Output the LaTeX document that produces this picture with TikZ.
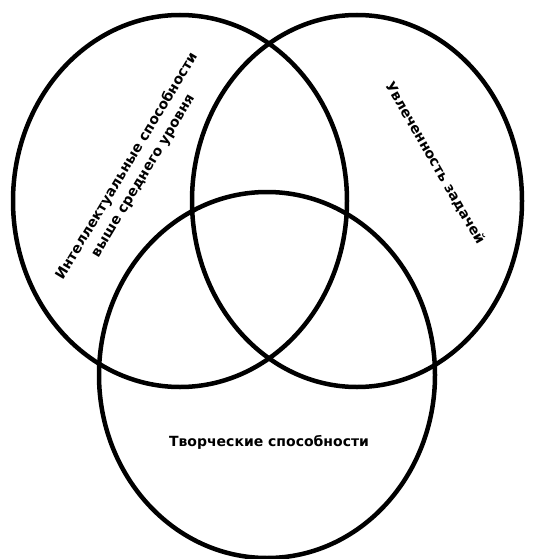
\documentclass[tikz,border=0pt]{standalone}
\usepackage{fontspec}
\setmainfont{DejaVu Sans}
\begin{document}
\begin{tikzpicture}[x=1pt,y=-1pt,line width=4.5pt,color=black,
    lbl/.style={font=\fontsize{14}{19}\selectfont\bfseries,align=center,inner sep=0pt}]
    \useasboundingbox (0,0) rectangle (544,559);
    % three sets
    \draw (180,201) ellipse [x radius=167, y radius=186];
    \draw (357,201) ellipse [x radius=165, y radius=186];
    \draw (267,375) ellipse [x radius=168, y radius=183];
    % labels
    \node[lbl,rotate=59] (intel) at (135,171) {Интеллектуальные способности\\выше среднего уровня};
    \node[lbl,rotate=-60] (task) at (435,163) {Увлеченность задачей};
    \node[lbl] (creat) at (269,442) {Творческие способности};
\end{tikzpicture}
\end{document}
